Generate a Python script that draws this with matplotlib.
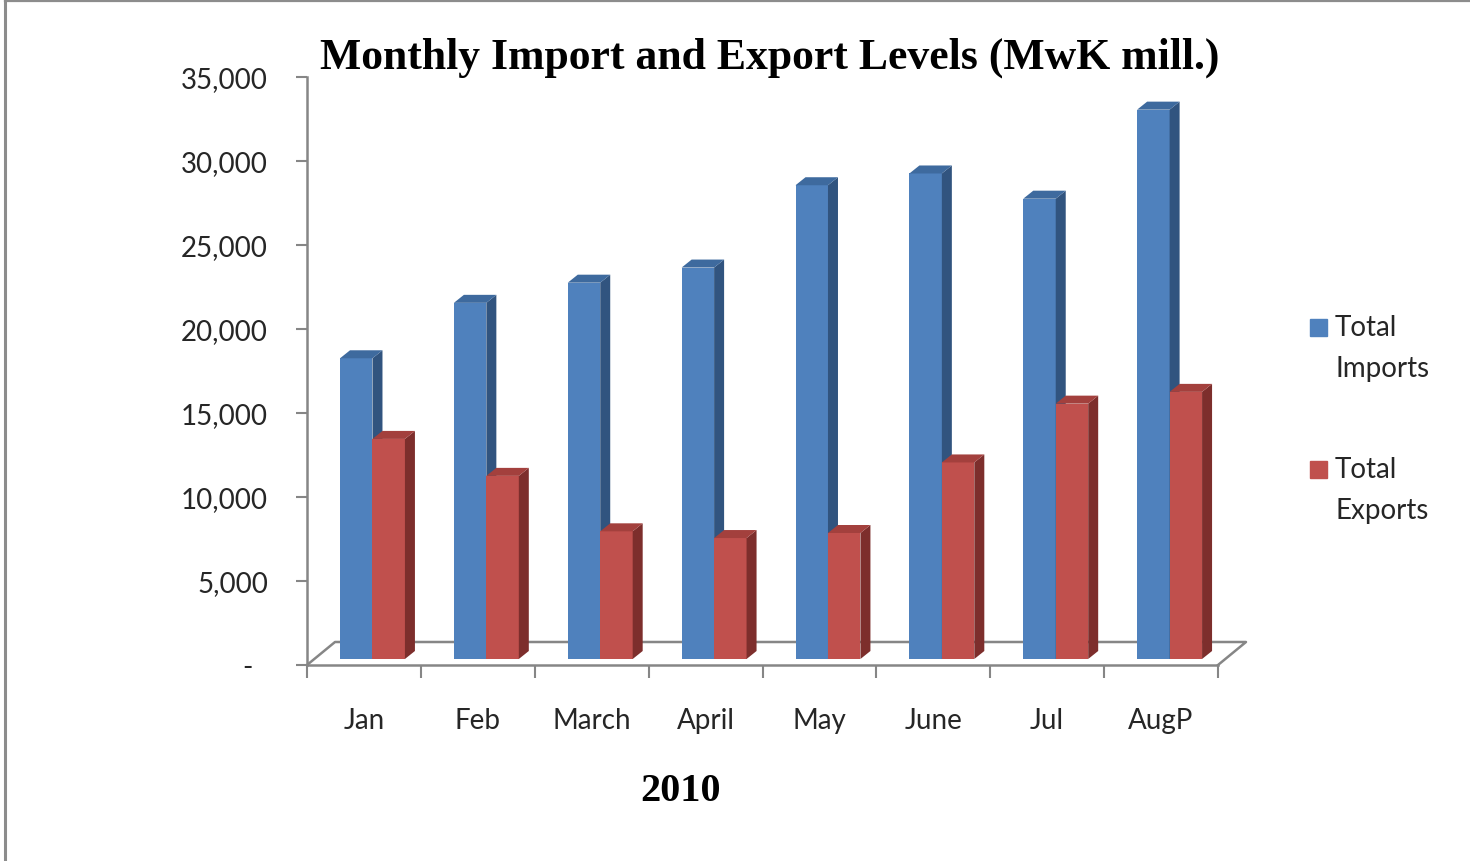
import numpy as np
import matplotlib.pyplot as plt
from matplotlib.patches import Polygon, Rectangle
from matplotlib.lines import Line2D

# data (MwK million)
months = ['Jan', 'Feb', 'March', 'April', 'May', 'June', 'Jul', 'AugP']
imports = [17900, 21200, 22400, 23300, 28200, 28900, 27400, 32700]
exports = [13100, 10900, 7600, 7200, 7500, 11700, 15200, 15900]
yticks = [0, 5000, 10000, 15000, 20000, 25000, 30000, 35000]

W, H = 1470, 862
gray = '#868686'
txt = '#262626'
sans = 'Lato'
serif = 'Liberation Serif'

fig = plt.figure(figsize=(W / 100, H / 100), dpi=100)
ax = fig.add_axes([307 / W, 1 - 666 / H, (1218 - 307) / W, (666 - 78) / H])
ax.set_xlim(0, len(months))
ax.set_ylim(0, 35000)

# pixel -> data units
px_x = len(months) / (1218 - 307)
px_y = 35000 / (666 - 78)

# floor of the 3d box
fdx, fdy = 28 * px_x, 23 * px_y
ax.plot([0, fdx, len(months) + fdx, len(months)], [0, fdy, fdy, 0],
        color=gray, lw=1.8, clip_on=False, zorder=1)


def bar3d(x0, w, v, front, side, top):
    b = 6 * px_y
    ddx, ddy = 10 * px_x, 8 * px_y
    ax.bar(x0, v, width=w, bottom=b, align='edge', color=front, lw=0, zorder=3)
    ax.add_patch(Polygon([(x0 + w, b), (x0 + w + ddx, b + ddy),
                          (x0 + w + ddx, b + v + ddy), (x0 + w, b + v)],
                         closed=True, color=side, lw=0, zorder=3, clip_on=False))
    ax.add_patch(Polygon([(x0, b + v), (x0 + ddx, b + v + ddy),
                          (x0 + w + ddx, b + v + ddy), (x0 + w, b + v)],
                         closed=True, color=top, lw=0, zorder=3, clip_on=False))


bw = 0.285
for i in range(len(months)):
    bar3d(i + 0.29, bw, imports[i], '#4F81BD', '#31547F', '#3E6A9E')
    bar3d(i + 0.29 + bw, bw, exports[i], '#C0504D', '#7D2E2C', '#A3403D')

for s in ['top', 'right']:
    ax.spines[s].set_visible(False)
for s in ['left', 'bottom']:
    ax.spines[s].set_color(gray)
    ax.spines[s].set_linewidth(1.8)

ax.set_yticks(yticks)
ax.set_yticklabels(['-  ' if v == 0 else f'{v:,}' for v in yticks],
                   fontsize=20, family=sans, color=txt)
ax.tick_params(axis='y', length=8, width=1.5, color=gray, pad=20)

ax.set_xticks(np.arange(len(months) + 1))
ax.set_xticklabels([])
ax.tick_params(axis='x', which='major', length=9, width=1.5, color=gray)
ax.set_xticks(np.arange(len(months)) + 0.5, minor=True)
ax.set_xticklabels(months, minor=True, fontsize=20, family=sans, color=txt)
ax.tick_params(axis='x', which='minor', length=0, pad=30)

fig.text(770 / W, 1 - 58 / H, 'Monthly Import and Export Levels (MwK mill.)',
         ha='center', va='center', fontsize=31.5, fontweight='bold', family=serif)
fig.text(680 / W, 1 - 792 / H, '2010', ha='center', va='center',
         fontsize=29, fontweight='bold', family=serif)

# legend, drawn by hand so the swatch sits on the first line
legend = [('#4F81BD', 'Total', 'Imports', 328), ('#C0504D', 'Total', 'Exports', 470)]
for col, l1, l2, yy in legend:
    fig.patches.append(Rectangle((1310 / W, 1 - (yy + 9) / H), 17 / W, 17 / H,
                                 transform=fig.transFigure, color=col))
    fig.text(1335 / W, 1 - yy / H, l1, va='center', fontsize=20, family=sans, color=txt)
    fig.text(1335 / W, 1 - (yy + 41) / H, l2, va='center', fontsize=20, family=sans, color=txt)

# outer frame (left and top edges only)
fig.add_artist(Line2D([4.5 / W, 4.5 / W], [0, 1 - 2 / H], color='#8c8c8c', lw=2.2,
                      transform=fig.transFigure))
fig.add_artist(Line2D([4.5 / W, 1], [1 - 2 / H, 1 - 2 / H], color='#8c8c8c', lw=1.6,
                      transform=fig.transFigure))

fig.savefig('out.png', dpi=100)
